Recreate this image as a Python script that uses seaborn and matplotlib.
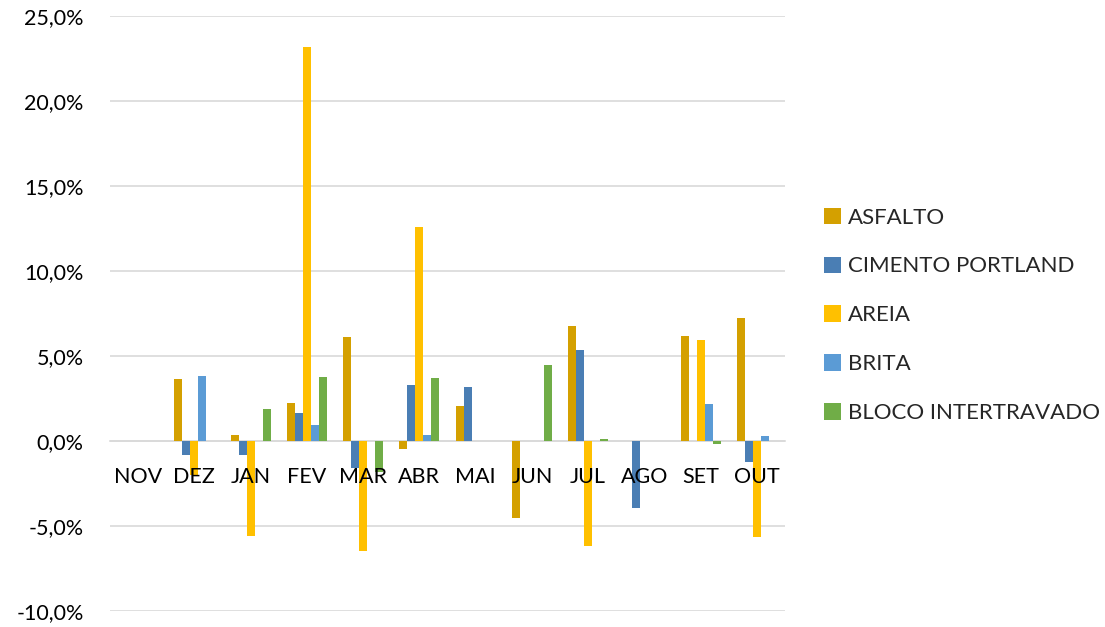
import numpy as np
import pandas as pd
import matplotlib
matplotlib.use('Agg')
import matplotlib.pyplot as plt
from matplotlib.ticker import FuncFormatter, MultipleLocator
import seaborn as sns

# variacao mensal (%) por material
meses = ['NOV', 'DEZ', 'JAN', 'FEV', 'MAR', 'ABR', 'MAI', 'JUN', 'JUL', 'AGO', 'SET', 'OUT']
asfalto = [0.0, 3.66, 0.38, 2.22, 6.12, -0.49, 2.03, -4.55, 6.75, 0.0, 6.16, 7.23]
cimento = [0.0, -0.83, -0.83, 1.64, -1.61, 3.31, 3.15, 0.0, 5.35, -3.95, 0.0, -1.24]
areia = [0.0, -2.0, -5.6, 23.2, -6.47, 12.56, 0.0, 0.0, -6.2, 0.0, 5.94, -5.64]
brita = [0.0, 3.82, 0.0, 0.95, 0.0, 0.35, 0.0, 0.0, 0.0, 0.0, 2.18, 0.28]
bloco = [0.0, 0.0, 1.91, 3.76, -1.83, 3.68, 0.0, 4.45, 0.12, 0.0, -0.15, 0.0]

materiais = ['ASFALTO', 'CIMENTO PORTLAND', 'AREIA', 'BRITA', 'BLOCO INTERTRAVADO']
cores = ['#D4A000', '#4A7EB4', '#FFC000', '#5B9BD5', '#70AD47']

df = pd.DataFrame({'mes': meses, 'ASFALTO': asfalto, 'CIMENTO PORTLAND': cimento,
                   'AREIA': areia, 'BRITA': brita, 'BLOCO INTERTRAVADO': bloco})
df = df.melt(id_vars='mes', var_name='material', value_name='valor')

sns.set_style('white')
plt.rcParams['font.family'] = ['Lato', 'DejaVu Sans']

fig = plt.figure(figsize=(11.05, 6.27), dpi=100)
ax = fig.add_axes([0.0995, 0.0255, 0.611, 0.949])

sns.barplot(data=df, x='mes', y='valor', hue='material', hue_order=materiais,
            order=meses, palette=cores, saturation=1, width=0.71, errorbar=None,
            linewidth=0, ax=ax)

ax.set_ylim(-10, 25)
ax.yaxis.set_major_locator(MultipleLocator(5))
ax.yaxis.set_major_formatter(FuncFormatter(lambda v, p: f'{v:.1f}%'.replace('.', ',')))
ax.grid(axis='y', color='#D9D9D9', linewidth=1.2)
ax.set_axisbelow(True)
ax.xaxis.set_zorder(5)  # rotulos do eixo x por cima das barras
for s in ['top', 'right', 'left']:
    ax.spines[s].set_visible(False)
ax.spines['bottom'].set_position(('data', 0))
ax.spines['bottom'].set_color('#D9D9D9')
ax.spines['bottom'].set_linewidth(1.2)
ax.spines['bottom'].set_zorder(0.6)
ax.tick_params(axis='y', length=0, pad=19, labelsize=15.5, labelcolor='#000000')
ax.tick_params(axis='x', length=0, pad=19, labelsize=15.5, labelcolor='#000000')
ax.set_xlabel('')
ax.set_ylabel('')

handles, labels = ax.get_legend_handles_labels()
ax.legend_.remove()
fig.legend(handles, labels, loc='center left', bbox_to_anchor=(0.728, 0.497),
           frameon=False, fontsize=16, handlelength=0.75, handleheight=0.75,
           handletextpad=0.3, labelspacing=1.3)

fig.savefig('out.png', dpi=100)
